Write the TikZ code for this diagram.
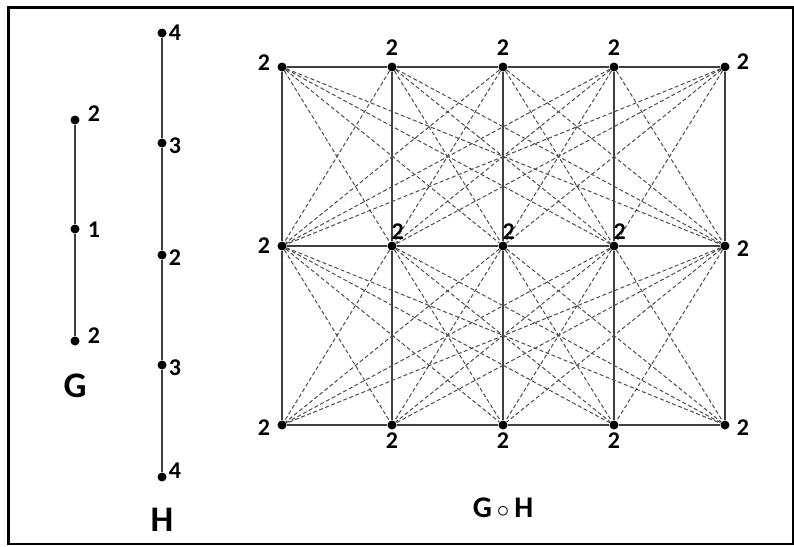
\documentclass[tikz,border=0pt]{standalone}
\usepackage{fontspec}
\setmainfont{Carlito}
\usetikzlibrary{positioning}

\begin{document}
\begin{tikzpicture}[
    x=1pt, y=-1pt,
    vtx/.style={circle, fill=black, inner sep=0pt, minimum size=9pt},
    edge/.style={draw=black!75, line width=1.3pt},
    dashedge/.style={draw=black!70, line width=1pt, dash pattern=on 4pt off 2.5pt},
    lbl/.style={font=\fontsize{24}{28}\selectfont\bfseries, inner sep=1pt},
    gname/.style={font=\fontsize{36}{42}\selectfont\bfseries, inner sep=1pt}
]
    \useasboundingbox (0,0) rectangle (794,546);
    % Frame
    \draw[line width=2.5pt] (8.5,7.5) rectangle (793,544);

    % Graph G
    \node[vtx] (g1) at (75,120) {};
    \node[vtx] (g2) at (75,229) {};
    \node[vtx] (g3) at (75,341) {};
    \draw[edge] (g1) -- (g2) -- (g3);
    \node[lbl, right=7pt of g1, yshift=6pt] (lg1) {2};
    \node[lbl, right=7pt of g2, yshift=-1pt] (lg2) {1};
    \node[lbl, right=7pt of g3, yshift=5pt] (lg3) {2};
    \node[gname] (gG) at (75,386) {G};

    % Graph H
    \node[vtx] (h1) at (162,33) {};
    \node[vtx] (h2) at (162,143) {};
    \node[vtx] (h3) at (162,255) {};
    \node[vtx] (h4) at (162,365) {};
    \node[vtx] (h5) at (162,477) {};
    \draw[edge] (h1) -- (h2) -- (h3) -- (h4) -- (h5);
    \node[lbl, right=1pt of h1] (lh1) {4};
    \node[lbl, right=1pt of h2, yshift=-3pt] (lh2) {3};
    \node[lbl, right=1pt of h3, yshift=-3pt] (lh3) {2};
    \node[lbl, right=1pt of h4, yshift=-3pt] (lh4) {3};
    \node[lbl, right=1pt of h5, yshift=6pt] (lh5) {4};
    \node[gname] (gH) at (162,520) {H};

    % Product G o H
    \foreach \r/\y in {1/67,2/246,3/425}
        \foreach \c/\x in {1/282,2/392,3/503,4/614,5/725}
            \node[vtx] (v\r\c) at (\x,\y) {};

    % lines within a row and down each column
    \foreach \r in {1,2,3}
        \draw[edge] (v\r1) -- (v\r2) -- (v\r3) -- (v\r4) -- (v\r5);
    \foreach \c in {1,...,5}
        \draw[edge] (v1\c) -- (v2\c) -- (v3\c);

    % dashed lines between adjacent rows
    \foreach \r/\s in {1/2,2/3}
        \foreach \a in {1,...,5}
            \foreach \b in {1,...,5}
                {\ifnum\a=\b\else\draw[dashedge] (v\r\a) -- (v\s\b);\fi}

    % labels
    \node[lbl, left=6pt of v11, yshift=4pt] (l11) {2};
    \node[lbl, above=6pt of v12] (l12) {2};
    \node[lbl, above=6pt of v13] (l13) {2};
    \node[lbl, above=6pt of v14] (l14) {2};
    \node[lbl, right=6pt of v15, yshift=5pt] (l15) {2};
    \node[lbl, left=6pt of v21] (l21) {2};
    \node[lbl, above right=2pt and -5pt of v22] (l22) {2};
    \node[lbl, above right=2pt and -5pt of v23] (l23) {2};
    \node[lbl, above right=2pt and -5pt of v24] (l24) {2};
    \node[lbl, right=6pt of v25, yshift=-3pt] (l25) {2};
    \node[lbl, left=6pt of v31, yshift=-3pt] (l31) {2};
    \node[lbl, below=2pt of v32] (l32) {2};
    \node[lbl, below=2pt of v33] (l33) {2};
    \node[lbl, below=2pt of v34] (l34) {2};
    \node[lbl, right=6pt of v35, yshift=-3pt] (l35) {2};

    \node[font=\fontsize{30}{36}\selectfont\bfseries] (gGH) at (503,508)
        {G\,$\circ$\,H};
\end{tikzpicture}
\end{document}
